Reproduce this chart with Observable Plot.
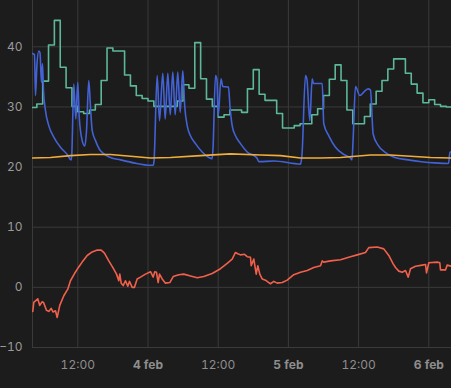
<!DOCTYPE html>
<html><head><meta charset="utf-8">
<script src="https://cdn.jsdelivr.net/npm/d3@7"></script>
<script src="https://cdn.jsdelivr.net/npm/@observablehq/plot@0.6"></script>
<style>
html,body{margin:0;padding:0;background:#1c1c1c;}
</style></head><body><div id="chart"></div>
<script>
// time in hours since 3 feb 00:00
const xStartHour = 4.26, xEndHour = 75.88;
const yTicks = [-10, 0, 10, 20, 30, 40];
const halfDayHours = [12, 36, 60];
const halfDayLabel = "12:00";
const dayHours = [24, 48, 72];
const dayLabels = ["4 feb", "5 feb", "6 feb"];

// green: hourly step values starting at hour 4
const greenFirstHour = 4;
const greenValues = [29.9,30.5,34.3,40.3,44.4,36.6,33.2,30.1,29.2,28.9,29.5,30.4,34.4,39.8,39.3,39.3,35.3,33.5,31.9,31.4,
  31.0,30.1,30.1,30.1,30.1,31.0,33.7,33.1,40.7,34.7,31.3,30.1,28.3,28.7,29.5,29.5,29.1,33.0,36.2,32.1,
  31.1,31.1,28.9,26.5,26.5,26.9,27.2,27.2,28.7,29.7,31.9,34.6,37.0,34.4,29.5,27.2,27.2,28.4,30.5,32.6,
  34.4,36.3,38.0,38.0,35.6,33.8,32.3,30.7,31.2,30.4,30.1,30.0,30.0];

const blueHours = [4.21,4.60,4.77,5.02,5.33,5.54,5.79,5.97,6.14,6.48,7.04,7.90,9.04,10.19,10.87,10.97,11.32,11.66,12.00,12.24,
  12.75,13.20,13.49,13.88,14.17,14.46,15.03,15.88,17.59,19.30,21.57,24.43,24.89,25.03,25.57,25.97,26.53,26.94,27.39,27.80,
  28.24,28.65,29.09,29.50,29.95,30.29,30.70,31.26,32.12,33.26,34.39,34.97,35.11,35.54,35.79,36.00,36.48,36.79,37.76,38.02,
  38.39,38.96,39.81,40.96,42.63,42.94,45.50,50.07,50.32,50.92,51.18,51.66,52.07,52.29,53.78,54.05,54.91,56.05,57.47,58.61,
  58.87,59.08,59.47,60.20,61.01,61.64,62.03,62.49,63.35,64.48,66.19,68.48,70.75,73.02,75.37,75.62,75.88];
const blueValues = [38.9,38.7,31.9,37.0,39.3,39.0,34.1,37.2,32.7,29.4,26.9,25.0,23.3,22.1,21.2,22.0,33.8,28.0,34.1,28.5,
  24.4,23.5,26.0,34.4,30.0,26.1,24.4,22.7,21.6,21.2,20.7,20.3,20.3,21.0,35.2,27.7,35.6,28.0,35.6,28.7,
  35.8,28.7,35.8,29.1,36.0,30.0,26.9,25.2,23.9,22.5,21.6,21.4,23.0,35.2,34.5,28.5,34.7,33.4,33.3,30.0,
  26.9,25.2,23.9,22.5,21.5,20.9,21.0,20.5,22.0,35.2,34.5,27.7,34.7,33.9,33.9,27.2,25.2,23.3,22.1,21.5,
  21.2,25.0,33.4,31.9,32.6,33.0,32.8,25.5,23.6,22.5,21.6,21.2,20.9,20.7,20.6,22.5,22.5];

const yellowHours = [4.26,7.33,10.75,14.17,17.59,21.01,24.43,27.85,32.97,38.10,43.23,46.65,50.07,53.49,56.91,62.03,65.45,68.87,72.29,75.88];
const yellowValues = [21.5,21.6,21.9,22.1,22.1,21.8,21.5,21.6,21.9,22.2,22.0,21.9,21.5,21.5,21.6,22.0,22.0,21.8,21.6,21.5];

const redHours = [4.31,4.48,5.16,5.50,5.91,6.14,6.65,7.04,7.45,7.79,8.19,8.48,8.92,9.61,10.29,10.75,11.44,12.17,12.75,13.61,
  14.46,15.32,16.00,16.56,17.30,18.05,18.62,19.01,19.18,19.42,19.76,20.15,20.55,20.84,21.30,21.69,22.15,22.72,23.57,24.43,
  24.89,25.16,25.45,25.74,25.97,26.43,26.99,27.73,28.31,29.27,30.12,31.27,32.41,33.54,34.97,36.39,37.54,38.39,38.96,39.35,
  39.81,40.50,40.96,41.52,41.64,42.09,42.50,42.77,43.11,43.52,44.09,44.65,44.94,45.50,46.09,46.94,47.80,48.92,50.07,51.21,
  52.34,53.49,53.78,54.05,55.20,56.91,58.61,59.76,61.18,61.74,63.18,64.31,65.16,65.91,66.31,66.87,67.45,68.02,68.48,68.87,
  69.73,70.87,71.44,71.61,72.00,73.44,73.88,74.00,74.85,75.14,75.88];
const redValues = [-4.0,-2.5,-1.9,-3.0,-2.4,-2.5,-3.8,-4.0,-3.5,-4.1,-3.9,-5.0,-3.0,-1.4,-0.3,1.1,2.3,3.4,4.2,5.3,
  5.9,6.2,6.2,5.7,4.4,3.2,2.2,1.1,2.2,0.7,0.3,1.1,0.2,1.0,0.0,0.0,1.4,1.7,2.2,2.6,
  1.7,2.6,2.5,0.8,2.2,1.4,0.7,0.8,1.8,2.1,2.2,1.9,1.6,1.8,2.3,3.1,4.0,4.7,5.8,5.6,
  5.4,5.5,5.1,5.0,3.6,4.7,2.2,3.6,2.2,1.4,1.2,0.8,0.6,1.0,0.7,0.8,1.2,2.1,2.5,2.8,
  3.3,3.6,4.4,4.2,4.4,4.6,5.1,5.4,5.8,6.6,6.7,6.4,5.3,3.9,3.3,2.7,2.5,2.8,1.7,3.1,
  3.5,3.7,3.8,2.4,4.1,4.2,4.1,2.9,2.9,3.7,3.5];

const T0 = Date.UTC(2024, 1, 3);
const toDate = h => new Date(T0 + h * 3600e3);
const green = greenValues.map((v, i) => ({t: toDate(greenFirstHour + i), v}));
const blue = blueHours.map((h, i) => ({t: toDate(h), v: blueValues[i]}));
const yellow = yellowHours.map((h, i) => ({t: toDate(h), v: yellowValues[i]}));
const red = redHours.map((h, i) => ({t: toDate(h), v: redValues[i]}));
const xDomain = [toDate(xStartHour), toDate(xEndHour)];
const gridCol = "#3a3a3a";

const chart = Plot.plot({
  width: 451, height: 388,
  marginLeft: 32, marginRight: 0, marginTop: 0, marginBottom: 41,
  style: {background: "#1c1c1c", color: "#9a9a9a", fontFamily: "Inter, sans-serif", fontSize: "12px"},
  x: {type: "utc", domain: xDomain},
  y: {domain: [-10, 47.7]},
  marks: [
    Plot.gridY({ticks: yTicks, stroke: gridCol, strokeOpacity: 1}),
    Plot.gridX({ticks: halfDayHours.concat(dayHours).map(toDate), stroke: gridCol, strokeOpacity: 1}),
    Plot.ruleX([xDomain[0]], {stroke: gridCol}),
    Plot.axisY({ticks: yTicks, tickSize: 0, tickPadding: 10, label: null, fill: "#9a9a9a"}),
    Plot.axisX({ticks: halfDayHours.map(toDate), tickSize: 0, tickPadding: 13, label: null,
      tickFormat: () => halfDayLabel, fill: "#8e8e8e"}),
    Plot.axisX({ticks: dayHours.map(toDate), tickSize: 0, tickPadding: 13, label: null, fontWeight: "bold",
      tickFormat: d => dayLabels[dayHours.indexOf(Math.round((d - T0) / 3600e3))], fill: "#8e8e8e"}),
    Plot.line(green, {x: "t", y: "v", curve: "step-after", stroke: "#5cb899", strokeWidth: 1.6, clip: true}),
    Plot.line(blue, {x: "t", y: "v", curve: "monotone-x", stroke: "#4262d6", strokeWidth: 1.6, clip: true}),
    Plot.line(yellow, {x: "t", y: "v", stroke: "#f0ad3c", strokeWidth: 1.6, clip: true}),
    Plot.line(red, {x: "t", y: "v", stroke: "#f2604c", strokeWidth: 1.6, clip: true})
  ]
});
document.getElementById("chart").appendChild(chart);
</script></body></html>
